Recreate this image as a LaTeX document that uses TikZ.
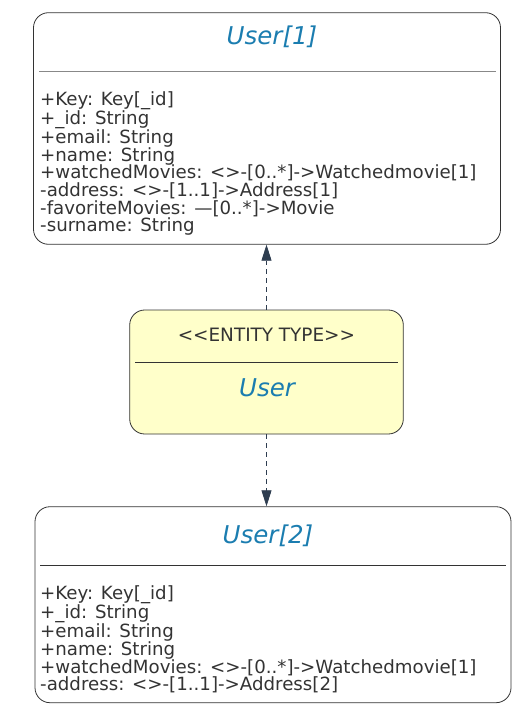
\documentclass[tikz,border=0pt]{standalone}
\usepackage{fontspec}
\setmainfont{DejaVu Sans}
\usetikzlibrary{arrows.meta}
\definecolor{titleblue}{HTML}{1B7DB0}
\definecolor{txtgray}{HTML}{333333}
\definecolor{sepgray}{HTML}{888888}
\definecolor{linkgray}{HTML}{2E3D50}
\definecolor{entityfill}{HTML}{FFFFCA}
\tikzset{
  umlbox/.style={draw=txtgray, rounded corners=15pt, line width=0.8pt, inner sep=0pt},
  umltitle/.style={font=\fontsize{24.5}{24.5}\selectfont\itshape, text=titleblue, anchor=base, inner sep=0pt},
  attrs/.style={font=\fontsize{18.2}{17.7}\selectfont, text=txtgray, align=left, anchor=north west, inner sep=0pt},
  link/.style={linkgray, line width=0.8pt, dash pattern=on 5pt off 4pt, -{Triangle[width=10pt,length=16pt]}}
}
\begin{document}
\begin{tikzpicture}[x=1pt,y=-1pt]
\useasboundingbox (0,0) rectangle (524,719);
% the three boxes
\node[umlbox, minimum width=467pt, minimum height=231.6pt] (user1) at (267,128.5) {};
\node[umlbox, fill=entityfill, minimum width=273.6pt, minimum height=124pt] (entity) at (266.5,372) {};
\node[umlbox, minimum width=476pt, minimum height=196pt] (user2) at (273,604.7) {};
% User[1]
\node[umltitle] (user1title) at (272,45) {User[1]};
\draw[sepgray, line width=0.8pt] (39,71) -- (496,71);
\node[attrs] (user1attrs) at (40,91.2) {+Key: Key[\_id]\\
+\_id: String\\
+email: String\\
+name: String\\
+watchedMovies: <>-[0..*]->Watchedmovie[1]\\
-address: <>-[1..1]->Address[1]\\
-favoriteMovies: —[0..*]->Movie\\
-surname: String};
% entity type
\node[font=\fontsize{18.4}{18.4}\selectfont, text=txtgray, anchor=base, inner sep=0pt] (stereo) at (266.4,341.7) {<{}<ENTITY TYPE>{}>};
\draw[txtgray, line width=0.8pt] (135,362.3) -- (398,362.3);
\node[umltitle] (entitytitle) at (267,396.7) {User};
% User[2]
\node[umltitle] (user2title) at (268,543.3) {User[2]};
\draw[txtgray, line width=0.8pt] (40,565.7) -- (506,565.7);
\node[attrs] (user2attrs) at (40,585.5) {+Key: Key[\_id]\\
+\_id: String\\
+email: String\\
+name: String\\
+watchedMovies: <>-[0..*]->Watchedmovie[1]\\
-address: <>-[1..1]->Address[2]};
% links
\draw[link] (entity.north) -- (entity.north |- user1.south);
\draw[link] (entity.south) -- (entity.south |- user2.north);
\end{tikzpicture}
\end{document}
